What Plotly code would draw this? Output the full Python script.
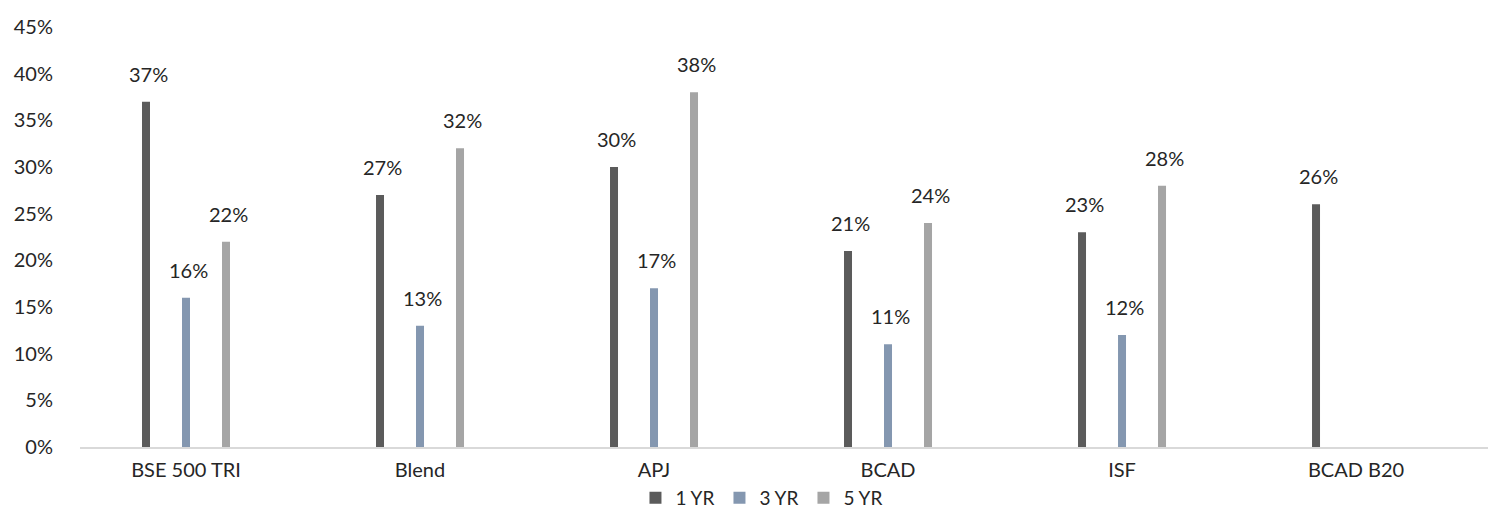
import plotly.graph_objects as go

# Annualised returns by portfolio / benchmark
categories = ["BSE 500 TRI", "Blend", "APJ", "BCAD", "ISF", "BCAD B20"]
series_names = ["1 YR", "3 YR", "5 YR"]
ret_1yr = [37, 27, 30, 21, 23, 26]
ret_3yr = [16, 13, 17, 11, 12, None]
ret_5yr = [22, 32, 38, 24, 28, None]
y_ticks = [0, 5, 10, 15, 20, 25, 30, 35, 40, 45]

colors = ["#5b5b5b", "#8497b0", "#a5a5a5"]
FONT = "Lato"
TEXT_COLOR = "#262626"

# geometry of the category axis (pixels per category unit)
PLOT_W = 1408
X_RANGE = [-0.453, 5.564]
px_per_unit = PLOT_W / (X_RANGE[1] - X_RANGE[0])
bar_px = 8
slot_px = [-40, 0, 40]

fig = go.Figure()
for name, vals, col, shift in zip(series_names, [ret_1yr, ret_3yr, ret_5yr], colors, slot_px):
    fig.add_trace(go.Bar(
        name=name,
        x=categories,
        y=vals,
        marker=dict(color=col, line=dict(width=0)),
        width=bar_px / px_per_unit,
        offset=(shift - bar_px / 2) / px_per_unit,
    ))
    for cat, v in zip(categories, vals):
        if v is None:
            continue
        fig.add_annotation(
            x=cat, y=v, xref="x", yref="y",
            text=f"{v}%", showarrow=False,
            xshift=shift + 2, yshift=28, yanchor="middle",
            font=dict(family=FONT, size=20, color=TEXT_COLOR),
        )

fig.update_layout(
    width=1488, height=510, autosize=False,
    margin=dict(l=80, r=0, t=27, b=63, autoexpand=False),
    plot_bgcolor="white", paper_bgcolor="white",
    barmode="overlay",
    font=dict(family=FONT, size=20, color=TEXT_COLOR),
    showlegend=True,
    legend=dict(
        orientation="h", x=0.484, xanchor="center", y=-0.121, yanchor="middle",
        font=dict(family=FONT, size=19, color=TEXT_COLOR),
        itemwidth=30, traceorder="normal", tracegroupgap=0,
    ),
    xaxis=dict(
        type="category", range=X_RANGE,
        showgrid=False, zeroline=False,
        showline=True, linecolor="#d9d9d9", linewidth=1.5,
        ticks="", ticklabelstandoff=4,
        tickfont=dict(family=FONT, size=20, color=TEXT_COLOR),
    ),
    yaxis=dict(
        range=[0, 45], tickvals=y_ticks,
        ticktext=[f"{t}%" for t in y_ticks],
        showgrid=False, zeroline=False, showline=False,
        ticks="", ticklabelstandoff=26,
        tickfont=dict(family=FONT, size=20, color=TEXT_COLOR),
    ),
)

fig.write_html("out.html")
